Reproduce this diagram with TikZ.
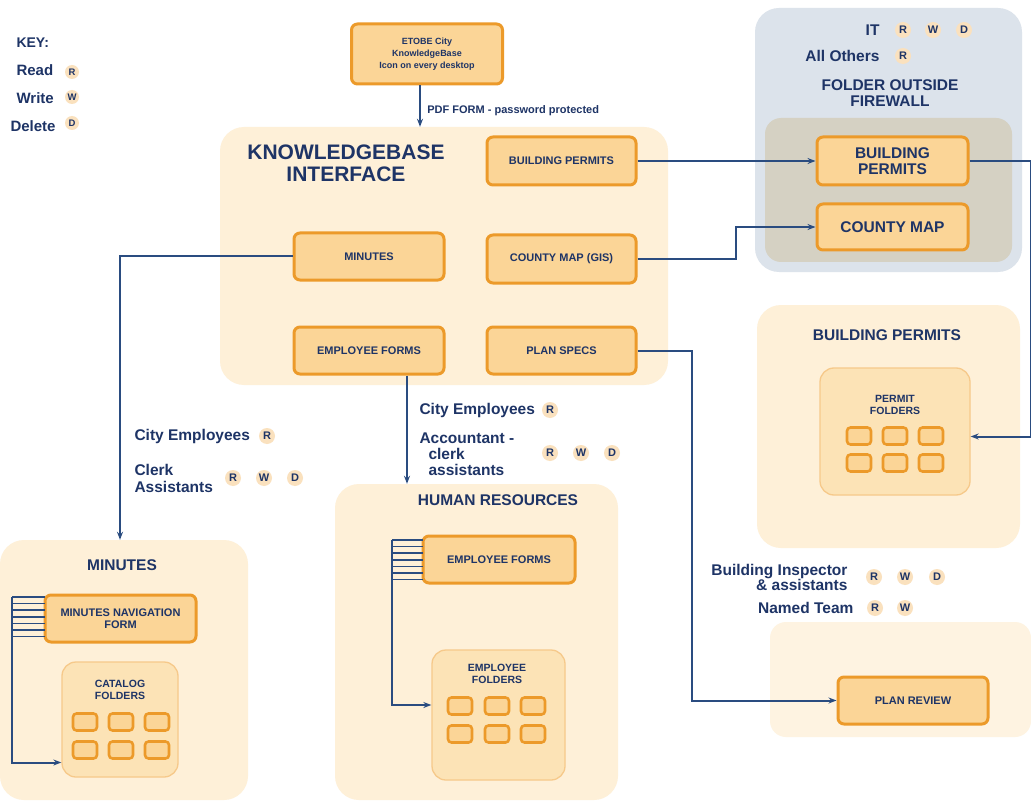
\documentclass[tikz,border=0pt]{standalone}
\usepackage{fontspec}
\setmainfont{Liberation Sans}
\usetikzlibrary{arrows.meta}
\definecolor{navy}{HTML}{1E3466}
\definecolor{lineblue}{HTML}{2A4C80}
\definecolor{borange}{HTML}{EC9A2A}
\definecolor{ofill}{HTML}{FBD597}
\definecolor{cfill}{HTML}{FEF0D8}
\definecolor{fwout}{HTML}{DCE3EB}
\definecolor{fwin}{HTML}{D5D1C3}
\definecolor{infill}{HTML}{FCE3B6}
\definecolor{indraw}{HTML}{F6C98A}
\definecolor{bfill}{HTML}{FAE1BE}
\definecolor{prfill}{HTML}{FEF3E1}
\begin{document}
\begin{tikzpicture}[x=1pt,y=-1pt,
  obox/.style={draw=borange, line width=3pt, fill=ofill, rounded corners=6pt, text=navy, align=center, font=\bfseries\fontsize{11}{12.5}\selectfont},
  bigbox/.style={obox, font=\bfseries\fontsize{15.5}{16}\selectfont},
  cont/.style={fill=cfill, rounded corners=24pt, inner sep=0pt},
  inbox/.style={fill=infill, draw=indraw, line width=1.3pt, rounded corners=14pt, inner sep=0pt},
  badge/.style={circle, fill=bfill, inner sep=0pt, minimum size=16pt, text=navy, font=\bfseries\fontsize{11}{11}\selectfont},
  conn/.style={draw=lineblue, line width=2pt, -{Stealth[length=8pt,width=6pt]}},
  hatch/.style={draw=lineblue, line width=1.6pt},
  lab/.style={text=navy, font=\bfseries\fontsize{15.5}{17}\selectfont},
  keylab/.style={text=navy, font=\bfseries\fontsize{15}{16}\selectfont},
  ttl/.style={text=navy, font=\bfseries\fontsize{15.5}{16}\selectfont, align=center},
  intxt/.style={text=navy, font=\bfseries\fontsize{10.5}{12}\selectfont, align=center},
  folder/.style={draw=borange, line width=2.6pt, fill=ofill, rounded corners=3.5pt, minimum width=24pt, minimum height=17pt, inner sep=0pt}
]
\useasboundingbox (0,0) rectangle (1031,805);
\fill[white] (0,0) rectangle (1031,805);

% ---- containers
\node[cont, minimum width=448pt, minimum height=258pt] (kb) at (444,256) {};
\node[cont, fill=fwout, minimum width=267pt, minimum height=264pt] (fw) at (888.5,140) {};
\node[cont, fill=fwin, rounded corners=16pt, minimum width=247pt, minimum height=144pt] (fwi) at (888.5,190) {};
\node[cont, minimum width=263pt, minimum height=243pt] (bpc) at (888.5,426.5) {};
\node[inbox, minimum width=150pt, minimum height=127pt] (pf) at (895,431.5) {};
\node[cont, fill=prfill, rounded corners=16pt, minimum width=261pt, minimum height=115pt] (prc) at (900.5,679.5) {};
\node[cont, minimum width=248pt, minimum height=260pt] (minc) at (124,670) {};
\node[inbox, minimum width=116pt, minimum height=115pt] (cat) at (120,719.5) {};
\node[cont, minimum width=283pt, minimum height=316pt] (hrc) at (476.5,642) {};
\node[inbox, minimum width=133pt, minimum height=130pt] (efo) at (498.5,715) {};

% ---- key
\node[anchor=west, keylab, font=\bfseries\fontsize{14}{15}\selectfont] (key) at (13,43) {KEY:};
\node[anchor=west, keylab] (kr) at (13,70) {Read};
\node[anchor=west, keylab] (kw) at (13,98) {Write};
\node[anchor=west, keylab] (kd) at (7,126) {Delete};
\node[badge, minimum size=14pt, font=\bfseries\fontsize{9.5}{9.5}\selectfont] (krb) at (72,72) {R};
\node[badge, minimum size=14pt, font=\bfseries\fontsize{9.5}{9.5}\selectfont] (kwb) at (72,97) {W};
\node[badge, minimum size=14pt, font=\bfseries\fontsize{9.5}{9.5}\selectfont] (kdb) at (72,123) {D};

% ---- top box
\node[obox, minimum width=151pt, minimum height=60pt, font=\bfseries\fontsize{9}{12}\selectfont] (top) at (427,54) {ETOBE City\\KnowledgeBase\\Icon on every desktop};

% ---- knowledgebase interface
\node[text=navy, font=\bfseries\fontsize{21}{22}\selectfont, align=center] (kbt) at (346,163) {KNOWLEDGEBASE\\INTERFACE};
\node[obox, minimum width=149pt, minimum height=48pt] (bp) at (561.5,161) {BUILDING PERMITS};
\node[obox, minimum width=150pt, minimum height=47pt] (minb) at (369,256.5) {MINUTES};
\node[obox, minimum width=149pt, minimum height=48pt] (cmg) at (561.5,259) {COUNTY MAP (GIS)};
\node[obox, minimum width=150pt, minimum height=47pt] (efb) at (369,350.5) {EMPLOYEE FORMS};
\node[obox, minimum width=149pt, minimum height=47pt] (ps) at (561.5,350.5) {PLAN SPECS};

% ---- firewall
\node[anchor=east, lab] (it) at (883,30) {IT};
\node[badge] (itr) at (903,30) {R};
\node[badge] (itw) at (933,30) {W};
\node[badge] (itd) at (964,30) {D};
\node[anchor=east, lab] (ao) at (883,56) {All Others};
\node[badge] (aor) at (903,56) {R};
\node[ttl] (fwt) at (890,93) {FOLDER OUTSIDE\\FIREWALL};
\node[bigbox, minimum width=151pt, minimum height=48pt] (fbp) at (892.5,161) {BUILDING\\PERMITS};
\node[bigbox, minimum width=151pt, minimum height=46pt] (fcm) at (892.5,227) {COUNTY MAP};

% ---- building permits
\node[ttl] (bpt) at (887,335) {BUILDING PERMITS};
\node[intxt] (pft) at (895,405) {PERMIT\\FOLDERS};
\foreach \cx/\nm in {859/a,895/b,931/c}{
  \foreach \cy/\rw in {436/1,463/2}{
    \node[folder] (pf\nm\rw) at (\cx,\cy) {};
  }
}

% ---- plan review
\node[anchor=east, lab, align=right, font=\bfseries\fontsize{15.5}{15}\selectfont] (bi) at (851,577) {Building Inspector\\\& assistants};
\node[badge] (bir) at (874,577) {R};
\node[badge] (biw) at (905,577) {W};
\node[badge] (bid) at (937,577) {D};
\node[anchor=east, lab] (nt) at (857,608) {Named Team};
\node[badge] (ntr) at (875,608) {R};
\node[badge] (ntw) at (905,608) {W};
\node[obox, minimum width=150pt, minimum height=47pt] (pr) at (913,700.5) {PLAN REVIEW};

% ---- minutes
\node[anchor=west, lab] (ce1) at (131,436) {City Employees};
\node[badge] (ce1r) at (267,436) {R};
\node[anchor=west, lab, align=left] (ca) at (131,478) {Clerk\\Assistants};
\node[badge] (car) at (233,478) {R};
\node[badge] (caw) at (264,478) {W};
\node[badge] (cad) at (295,478) {D};
\node[ttl] (mint) at (122,565) {MINUTES};
\node[obox, minimum width=151pt, minimum height=47pt] (mnf) at (120.5,618.5) {MINUTES NAVIGATION\\FORM};
\node[intxt] (catt) at (120,690) {CATALOG\\FOLDERS};
\foreach \cx/\nm in {85/a,121/b,157/c}{
  \foreach \cy/\rw in {722/1,750/2}{
    \node[folder] (cf\nm\rw) at (\cx,\cy) {};
  }
}

% ---- human resources
\node[anchor=west, lab] (ce2) at (416,410) {City Employees};
\node[badge] (ce2r) at (550,410) {R};
\node[anchor=west, lab, align=left, font=\bfseries\fontsize{15.5}{16}\selectfont] (acc) at (416,454) {Accountant -\\\hspace*{9pt}clerk\\\hspace*{9pt}assistants};
\node[badge] (accr) at (550,453) {R};
\node[badge] (accw) at (581,453) {W};
\node[badge] (accd) at (612,453) {D};
\node[ttl] (hrt) at (498,500) {HUMAN RESOURCES};
\node[obox, minimum width=152pt, minimum height=47pt] (hef) at (499,559.5) {EMPLOYEE FORMS};
\node[intxt] (efot) at (497,674) {EMPLOYEE\\FOLDERS};
\foreach \cx/\nm in {460/a,497/b,533/c}{
  \foreach \cy/\rw in {706/1,734/2}{
    \node[folder] (ef\nm\rw) at (\cx,\cy) {};
  }
}

% ---- hatching
\foreach \i in {0,...,6}{
  \draw[hatch] (12,597+\i*6.6) -- (45,597+\i*6.6);
  \draw[hatch] (392,540+\i*6.6) -- (423,540+\i*6.6);
}
\coordinate (mh) at (12,597);
\coordinate (hh) at (392,540);

% ---- connectors
\draw[conn] ([xshift=-7pt]top.south) -- ([xshift=-7pt]top.south |- kb.north)
  node[pos=0.62, right=3pt, text=navy, font=\bfseries\fontsize{11}{12}\selectfont] {PDF FORM - password protected};
\draw[conn] (bp.east) -- (fbp.west);
\draw[conn] (cmg.east) -- ++(98,0) |- (fcm.west);
\draw[conn] (fbp.east) -- ++(61,0) |- ([yshift=-5pt]pf.east);
\draw[conn] (ps.east) -- ++(54,0) |- (pr.west);
\draw[conn] (minb.west) -| ([xshift=-4pt]minc.north);
\draw[conn] ([xshift=38pt]efb.south) -- ([xshift=38pt]efb.south |- hrc.north);
\draw[conn] (mh) |- ([yshift=-43pt]cat.west);
\draw[conn] (hh) |- ([yshift=10pt]efo.west);
\end{tikzpicture}
\end{document}
